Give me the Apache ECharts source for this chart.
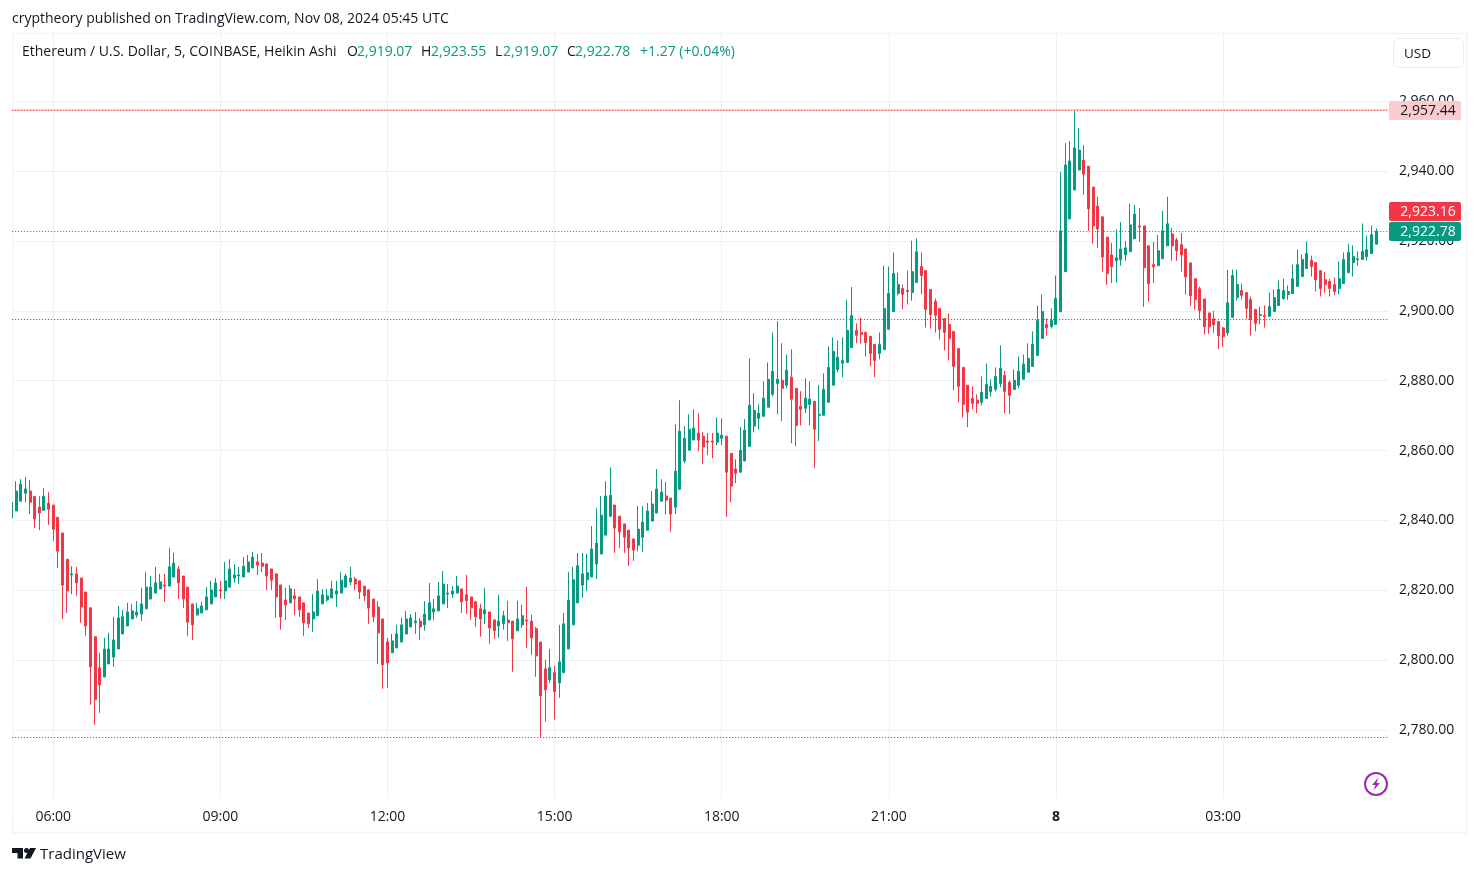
<!DOCTYPE html>
<html>
<head>
<meta charset="utf-8">
<title>ETHUSD</title>
<script src="https://cdn.jsdelivr.net/npm/echarts@6/dist/echarts.min.js"></script>
<style>
  html, body { margin: 0; padding: 0; background: #fff; }
  #chart { width: 1479px; height: 875px; }
</style>
</head>
<body>
<div id="chart"></div>
<script>
const opens = [
  2840.7, 2842.7, 2845.5, 2847.8, 2848.4, 2846.9, 2843.8, 2842.9, 2844.9, 2844.4,
  2840.9, 2836.4, 2828.9, 2824.4, 2824.7, 2823.5, 2819.5, 2815.0, 2806.7, 2797.8,
  2795.2, 2798.9, 2800.9, 2803.2, 2807.5, 2809.8, 2811.8, 2812.9, 2813.2, 2814.7,
  2817.5, 2819.2, 2820.4, 2821.5, 2821.2, 2823.8, 2826.1, 2824.1, 2820.9, 2816.1,
  2812.9, 2813.5, 2814.4, 2816.1, 2818.1, 2820.1, 2819.8, 2820.9, 2823.5, 2824.1,
  2823.8, 2825.2, 2826.4, 2828.1, 2827.8, 2827.5, 2826.1, 2824.7, 2821.5, 2817.2,
  2816.4, 2818.4, 2818.1, 2816.4, 2813.5, 2811.8, 2812.7, 2816.1, 2817.2, 2817.8,
  2818.9, 2819.2, 2820.9, 2822.4, 2823.2, 2822.7, 2821.2, 2820.1, 2817.5, 2815.2,
  2811.8, 2805.2, 2802.1, 2803.5, 2805.2, 2807.5, 2809.5, 2810.7, 2811.2, 2810.1,
  2811.5, 2813.8, 2814.1, 2816.1, 2818.9, 2818.9, 2819.2, 2820.4, 2818.7, 2818.1,
  2816.7, 2814.7, 2813.2, 2813.8, 2811.5, 2809.8, 2810.4, 2811.5, 2811.2, 2808.4,
  2810.1, 2811.5, 2811.2, 2809.0, 2805.2, 2797.5, 2794.4, 2796.4, 2793.5, 2796.4,
  2803.2, 2810.1, 2816.4, 2821.5, 2823.0, 2823.8, 2827.5, 2830.4, 2835.8, 2841.2,
  2844.4, 2841.2, 2839.0, 2837.2, 2834.7, 2832.9, 2835.2, 2837.2, 2839.8, 2842.1,
  2845.5, 2847.0, 2846.4, 2843.8, 2848.9, 2857.0, 2860.1, 2863.0, 2865.0, 2864.1,
  2862.7, 2862.7, 2862.4, 2863.5, 2864.1, 2859.2, 2854.7, 2853.8, 2857.0, 2861.2,
  2867.0, 2869.2, 2869.8, 2872.4, 2876.1, 2879.2, 2880.1, 2878.7, 2881.0, 2877.8,
  2872.7, 2872.1, 2873.2, 2874.1, 2870.1, 2870.1, 2873.8, 2878.7, 2883.2, 2885.0,
  2885.2, 2889.5, 2894.4, 2893.8, 2893.8, 2892.7, 2890.4, 2887.8, 2888.9, 2894.7,
  2899.8, 2905.0, 2906.4, 2905.8, 2905.2, 2908.1, 2912.7, 2911.5, 2906.1, 2902.7,
  2900.7, 2897.8, 2896.1, 2894.1, 2889.2, 2883.8, 2878.7, 2874.9, 2874.4, 2873.8,
  2874.9, 2876.9, 2877.5, 2879.2, 2881.5, 2879.5, 2877.5, 2878.7, 2880.4, 2882.4,
  2884.1, 2887.2, 2892.1, 2896.1, 2895.5, 2896.1, 2899.7, 2911.2, 2926.3, 2934.6,
  2940.3, 2943.1, 2941.4, 2935.4, 2930.0, 2926.9, 2921.1, 2916.0, 2914.3, 2914.6,
  2916.0, 2916.9, 2920.6, 2924.3, 2924.3, 2918.6, 2913.2, 2912.9, 2914.9, 2918.6,
  2922.0, 2920.3, 2918.9, 2917.7, 2913.7, 2909.2, 2906.3, 2903.4, 2899.4, 2897.7,
  2896.9, 2895.1, 2893.7, 2898.1, 2903.8, 2905.8, 2905.2, 2903.2, 2900.4, 2898.7,
  2898.7, 2898.4, 2899.8, 2901.5, 2903.5, 2904.7, 2904.9, 2907.0, 2909.8, 2912.1,
  2914.4, 2913.8, 2911.5, 2908.9, 2908.4, 2907.5, 2906.4, 2907.8, 2910.9, 2913.8,
  2914.7, 2914.7, 2915.5, 2916.4, 2919.07
]
const closes = [
  2845.2, 2848.4, 2850.4, 2849.0, 2845.2, 2840.4, 2842.1, 2846.9, 2843.2, 2837.5,
  2831.2, 2821.5, 2819.8, 2824.7, 2822.1, 2815.2, 2809.8, 2798.1, 2788.7, 2792.9,
  2803.2, 2803.2, 2805.8, 2812.1, 2812.4, 2813.8, 2814.1, 2813.8, 2816.1, 2820.9,
  2820.9, 2822.1, 2822.4, 2821.2, 2826.7, 2827.8, 2822.1, 2817.5, 2810.9, 2810.1,
  2814.7, 2815.5, 2818.1, 2820.1, 2822.1, 2819.8, 2822.7, 2826.1, 2824.4, 2824.4,
  2826.9, 2828.1, 2829.5, 2827.2, 2826.9, 2824.1, 2822.9, 2818.1, 2812.4, 2815.8,
  2820.4, 2817.5, 2814.4, 2810.7, 2810.4, 2813.8, 2819.8, 2818.7, 2818.4, 2820.4,
  2819.8, 2822.9, 2824.1, 2823.5, 2821.8, 2819.5, 2818.4, 2814.9, 2812.4, 2807.8,
  2798.7, 2799.2, 2805.5, 2807.5, 2810.1, 2811.8, 2812.1, 2811.2, 2809.5, 2813.2,
  2816.4, 2814.7, 2818.4, 2821.8, 2819.2, 2819.8, 2821.2, 2816.7, 2817.0, 2815.0,
  2812.4, 2811.8, 2814.4, 2809.2, 2808.4, 2811.2, 2812.7, 2810.7, 2806.1, 2811.8,
  2812.7, 2811.2, 2806.4, 2801.2, 2789.8, 2791.5, 2797.8, 2791.0, 2799.5, 2810.4,
  2817.2, 2823.0, 2827.0, 2824.7, 2825.0, 2831.8, 2833.5, 2841.5, 2847.0, 2847.2,
  2837.8, 2836.7, 2835.2, 2832.1, 2831.5, 2837.5, 2839.5, 2842.7, 2844.7, 2849.0,
  2848.1, 2845.8, 2841.8, 2854.1, 2865.5, 2863.5, 2866.1, 2866.4, 2863.0, 2861.0,
  2862.4, 2862.4, 2865.0, 2864.4, 2853.8, 2849.8, 2853.5, 2860.1, 2865.8, 2873.0,
  2871.5, 2870.7, 2875.0, 2880.4, 2882.7, 2880.4, 2877.8, 2883.0, 2874.7, 2867.2,
  2871.8, 2875.0, 2874.7, 2866.1, 2870.4, 2877.5, 2883.8, 2888.4, 2886.7, 2885.8,
  2894.4, 2898.7, 2893.0, 2893.2, 2890.9, 2887.8, 2885.8, 2890.4, 2900.7, 2905.0,
  2910.7, 2907.5, 2904.7, 2905.5, 2911.2, 2916.9, 2910.1, 2900.4, 2898.9, 2898.7,
  2894.7, 2893.8, 2892.1, 2884.1, 2878.4, 2873.2, 2871.0, 2873.5, 2873.5, 2876.7,
  2878.9, 2878.4, 2881.2, 2883.5, 2876.9, 2875.8, 2880.1, 2882.7, 2884.7, 2886.4,
  2890.4, 2897.2, 2899.8, 2895.2, 2897.2, 2903.5, 2922.9, 2941.7, 2942.9, 2946.6,
  2946.0, 2939.1, 2929.2, 2924.3, 2923.4, 2915.4, 2910.6, 2912.6, 2915.2, 2917.7,
  2918.0, 2924.6, 2927.7, 2924.0, 2912.3, 2907.7, 2912.6, 2917.2, 2922.9, 2924.9,
  2918.6, 2917.2, 2916.0, 2909.7, 2904.3, 2903.2, 2900.0, 2895.4, 2895.4, 2896.0,
  2892.9, 2892.6, 2902.3, 2910.1, 2907.5, 2904.4, 2900.7, 2897.5, 2896.4, 2898.9,
  2898.4, 2901.2, 2903.8, 2906.1, 2905.8, 2905.5, 2909.2, 2913.2, 2914.7, 2916.4,
  2912.7, 2908.9, 2906.4, 2907.5, 2906.4, 2905.5, 2909.2, 2914.7, 2916.7, 2915.5,
  2914.9, 2917.0, 2917.5, 2921.8, 2922.78
]
const lows = [
  2840.7, 2842.7, 2845.5, 2845.2, 2841.8, 2837.8, 2837.2, 2842.9, 2838.7, 2834.1,
  2826.4, 2811.8, 2813.5, 2818.9, 2818.4, 2810.7, 2806.9, 2787.2, 2781.5, 2784.9,
  2795.2, 2798.9, 2798.1, 2803.2, 2807.5, 2809.8, 2811.8, 2812.1, 2811.2, 2814.7,
  2817.5, 2819.2, 2820.4, 2816.7, 2821.2, 2823.8, 2817.5, 2814.9, 2806.9, 2805.8,
  2812.9, 2813.5, 2814.4, 2816.1, 2818.1, 2817.5, 2817.5, 2820.9, 2822.1, 2821.8,
  2823.8, 2825.2, 2826.4, 2824.4, 2825.2, 2820.1, 2820.1, 2812.1, 2808.7, 2811.5,
  2816.4, 2812.9, 2812.4, 2806.9, 2809.2, 2808.1, 2812.7, 2816.1, 2816.7, 2817.8,
  2815.2, 2819.2, 2820.9, 2821.5, 2820.1, 2817.5, 2816.9, 2810.4, 2810.9, 2798.9,
  2791.8, 2792.1, 2802.1, 2803.5, 2805.2, 2807.5, 2809.5, 2807.5, 2805.8, 2808.4,
  2811.5, 2811.5, 2814.1, 2816.1, 2814.9, 2817.8, 2819.2, 2813.5, 2813.2, 2811.5,
  2809.5, 2806.7, 2810.4, 2804.7, 2806.1, 2806.4, 2808.7, 2805.5, 2796.7, 2808.4,
  2809.2, 2803.5, 2801.5, 2795.2, 2777.9, 2782.4, 2793.5, 2783.0, 2789.2, 2796.4,
  2803.2, 2810.1, 2816.4, 2817.8, 2819.8, 2823.8, 2823.2, 2830.4, 2835.8, 2840.9,
  2830.7, 2832.1, 2830.7, 2827.0, 2828.4, 2831.2, 2831.0, 2837.2, 2839.8, 2842.1,
  2845.5, 2841.8, 2836.7, 2841.8, 2848.9, 2856.4, 2860.1, 2863.0, 2859.8, 2856.1,
  2858.7, 2857.8, 2861.5, 2861.5, 2841.0, 2845.2, 2850.7, 2853.8, 2857.0, 2861.2,
  2865.2, 2866.1, 2869.8, 2872.4, 2875.5, 2870.4, 2868.4, 2877.8, 2862.1, 2861.2,
  2867.2, 2870.7, 2867.2, 2855.0, 2862.7, 2870.1, 2873.8, 2878.7, 2882.4, 2881.0,
  2885.2, 2889.5, 2890.7, 2890.6, 2886.9, 2884.1, 2881.0, 2886.1, 2888.9, 2894.7,
  2899.8, 2904.4, 2900.4, 2901.8, 2902.9, 2908.1, 2904.7, 2895.2, 2894.9, 2893.8,
  2891.8, 2888.7, 2885.8, 2877.2, 2873.8, 2869.5, 2866.7, 2871.8, 2870.7, 2872.9,
  2874.9, 2875.5, 2876.9, 2878.1, 2870.7, 2870.4, 2877.5, 2877.8, 2880.4, 2882.4,
  2884.1, 2887.2, 2892.1, 2892.9, 2894.9, 2896.1, 2899.7, 2911.2, 2926.3, 2934.6,
  2940.3, 2933.2, 2922.9, 2919.2, 2918.0, 2911.2, 2907.4, 2908.0, 2908.0, 2912.9,
  2914.3, 2916.9, 2920.6, 2919.7, 2901.1, 2902.6, 2908.0, 2912.9, 2914.9, 2918.6,
  2914.3, 2914.3, 2911.2, 2904.6, 2901.4, 2900.3, 2897.4, 2893.2, 2893.4, 2893.7,
  2889.1, 2889.7, 2892.9, 2898.1, 2902.9, 2903.2, 2897.8, 2892.9, 2894.1, 2896.1,
  2895.2, 2898.4, 2899.8, 2901.5, 2903.2, 2903.2, 2904.9, 2907.0, 2909.8, 2912.1,
  2909.8, 2905.5, 2904.1, 2905.2, 2904.1, 2904.4, 2904.7, 2907.8, 2910.9, 2909.8,
  2912.9, 2914.7, 2914.4, 2916.4, 2919.07
]
const highs = [
  2848.4, 2851.2, 2851.8, 2852.4, 2851.5, 2846.9, 2846.9, 2849.2, 2848.1, 2844.4,
  2840.9, 2836.4, 2828.9, 2826.9, 2826.7, 2823.5, 2819.5, 2815.0, 2806.7, 2802.1,
  2806.4, 2807.8, 2812.4, 2815.5, 2814.4, 2816.4, 2816.1, 2816.9, 2820.7, 2825.2,
  2824.1, 2826.7, 2824.7, 2824.7, 2832.1, 2830.7, 2826.9, 2824.1, 2820.9, 2816.1,
  2816.4, 2816.7, 2820.9, 2822.7, 2823.5, 2822.7, 2828.1, 2828.9, 2827.5, 2826.7,
  2829.5, 2830.1, 2831.0, 2830.4, 2830.7, 2827.8, 2826.1, 2824.7, 2821.5, 2820.7,
  2821.5, 2820.4, 2818.1, 2816.4, 2813.5, 2818.9, 2823.2, 2820.4, 2820.4, 2822.7,
  2822.7, 2825.2, 2824.7, 2826.7, 2823.8, 2822.7, 2821.2, 2820.4, 2817.5, 2816.9,
  2811.8, 2806.4, 2807.5, 2810.1, 2812.1, 2814.1, 2813.2, 2813.8, 2812.1, 2816.9,
  2822.1, 2817.5, 2822.4, 2825.5, 2821.8, 2821.2, 2824.1, 2820.4, 2824.4, 2818.1,
  2817.0, 2816.1, 2820.7, 2813.8, 2811.8, 2818.7, 2814.1, 2817.0, 2811.2, 2817.0,
  2815.8, 2821.0, 2813.0, 2809.5, 2805.2, 2800.1, 2803.2, 2798.4, 2810.1, 2813.5,
  2825.2, 2826.7, 2830.7, 2830.7, 2830.4, 2838.4, 2843.5, 2847.0, 2851.2, 2855.2,
  2844.4, 2841.2, 2839.0, 2837.2, 2834.7, 2844.1, 2844.1, 2845.0, 2848.4, 2854.7,
  2851.8, 2851.0, 2846.4, 2867.5, 2874.4, 2867.0, 2870.4, 2871.8, 2870.7, 2865.2,
  2865.0, 2865.0, 2869.5, 2869.2, 2864.1, 2859.2, 2857.5, 2866.7, 2869.0, 2886.4,
  2876.4, 2873.2, 2879.8, 2885.2, 2893.8, 2897.0, 2890.7, 2887.5, 2889.0, 2877.8,
  2877.0, 2880.7, 2879.8, 2874.1, 2878.7, 2882.1, 2889.8, 2892.4, 2891.5, 2892.4,
  2903.1, 2906.8, 2896.4, 2898.0, 2894.1, 2892.7, 2890.4, 2893.8, 2912.9, 2912.7,
  2916.7, 2910.9, 2907.5, 2911.5, 2920.1, 2920.7, 2916.7, 2911.5, 2906.1, 2903.5,
  2900.7, 2897.8, 2899.2, 2894.1, 2889.2, 2883.8, 2878.7, 2878.4, 2876.1, 2881.2,
  2884.9, 2880.4, 2883.8, 2890.1, 2882.9, 2880.1, 2883.2, 2886.9, 2887.5, 2890.7,
  2894.1, 2901.5, 2904.7, 2897.8, 2900.7, 2910.1, 2939.7, 2948.0, 2948.6, 2957.44,
  2952.3, 2947.4, 2941.4, 2935.4, 2932.6, 2926.9, 2921.1, 2919.4, 2923.2, 2925.4,
  2920.0, 2930.6, 2930.3, 2929.4, 2924.3, 2918.6, 2919.7, 2921.7, 2928.6, 2932.6,
  2923.7, 2920.9, 2922.3, 2917.7, 2913.7, 2909.2, 2906.9, 2903.4, 2899.4, 2900.0,
  2896.9, 2895.4, 2911.7, 2911.8, 2911.8, 2907.8, 2905.2, 2904.1, 2900.4, 2901.2,
  2901.5, 2905.2, 2906.1, 2908.7, 2909.2, 2907.2, 2913.2, 2917.5, 2916.1, 2919.8,
  2915.8, 2913.8, 2911.5, 2911.2, 2909.2, 2909.5, 2914.1, 2916.7, 2919.2, 2918.7,
  2917.0, 2925.0, 2921.5, 2924.4, 2923.55
]

// two empty slots to the right of the last candle
const slotCount = opens.length + 2
const firstSlotMinutes = 5 * 60 + 15
const categories = []
for (let i = 0; i < slotCount; i++) {
  const m = (firstSlotMinutes + i * 5) % 1440
  categories.push(String(Math.floor(m / 60)).padStart(2, '0') + ':' + String(m % 60).padStart(2, '0'))
}
const tickTimes = ['06:00', '09:00', '12:00', '15:00', '18:00', '21:00', '00:00', '03:00']
const dayLabel = '8'

const highLine = 2957.44
const lastLine = 2922.78
const upperLevel = 2897.6
const lowerLevel = 2777.85

const UP = '#089981'
const DOWN = '#F23645'
const FONT = '"Open Sans", sans-serif'

const isTick = (index, value) => tickTimes.includes(value) && index < opens.length

function priceTag(text, top, bg, fg) {
  return [
    { type: 'rect', z: 60, shape: { x: 1389, y: top, width: 72, height: 19, r: 2 }, style: { fill: bg } },
    { type: 'text', z: 61, style: { text, x: 1428, y: top + 10, fill: fg, font: '14px ' + FONT, align: 'center', verticalAlign: 'middle' } }
  ]
}

function label(text, x, y, fill, size) {
  return { type: 'text', z: 61, style: { text, x, y: y + 1, fill, font: (size || 14) + 'px ' + FONT, verticalAlign: 'middle' } }
}

const chart = echarts.init(document.getElementById('chart'), null, { renderer: 'canvas' })

const option = {
  animation: false,
  backgroundColor: '#fff',
  grid: { left: 9.18, width: 1378.7, top: 31.3, height: 768.6 },
  xAxis: {
    type: 'category',
    data: categories,
    boundaryGap: true,
    axisLine: { show: false },
    axisTick: { show: false },
    splitLine: { show: true, interval: isTick, alignWithLabel: true, lineStyle: { color: '#f0f0f3', width: 1 } },
    axisLabel: {
      interval: isTick,
      margin: 10,
      color: '#131722',
      fontFamily: FONT,
      fontSize: 14,
      hideOverlap: false,
      formatter: value => value === '00:00' ? '{day|' + dayLabel + '}' : value,
      rich: { day: { fontWeight: 'bold', color: '#131722', fontFamily: FONT, fontSize: 14 } }
    }
  },
  yAxis: {
    type: 'value',
    position: 'right',
    min: 2760,
    max: 2980,
    interval: 20,
    axisLine: { show: false },
    axisTick: { show: false },
    splitLine: { show: true, showMinLine: false, showMaxLine: false, lineStyle: { color: '#f0f0f3', width: 1 } },
    axisLabel: {
      margin: 11,
      color: '#131722',
      fontFamily: FONT,
      fontSize: 14,
      showMinLabel: false,
      showMaxLabel: false,
      formatter: value => echarts.format.addCommas(value.toFixed(2))
    }
  },
  series: [
    {
      type: 'candlestick',
      barWidth: 2.5,
      progressive: 0,
      data: opens.map((o, i) => [o, closes[i], lows[i], highs[i]]),
      itemStyle: { color: UP, color0: DOWN, borderColor: UP, borderColor0: DOWN, borderWidth: 1 },
      markLine: {
        silent: true,
        symbol: 'none',
        animation: false,
        label: { show: false },
        data: [
          { yAxis: highLine, lineStyle: { color: '#f9d0d3', type: 'solid', width: 2 } },
          { yAxis: highLine, lineStyle: { color: DOWN, type: [1, 2], width: 1 } },
          { yAxis: lastLine, lineStyle: { color: UP, type: [1, 2], width: 1 } },
          { yAxis: upperLevel, lineStyle: { color: '#555', type: [1, 2], width: 1 } },
          { yAxis: lowerLevel, lineStyle: { color: '#555', type: [1, 2], width: 1 } }
        ]
      }
    }
  ],
  graphic: [
    // the first candle is cut by the frame, the area outside the pane stays white
    { type: 'rect', z: 50, shape: { x: 0, y: 20, width: 12, height: 800 }, style: { fill: '#fff' } },
    { type: 'rect', z: 50, shape: { x: 12, y: 798, width: 1376, height: 3 }, style: { fill: '#fff' } },
    { type: 'rect', z: 1, shape: { x: 12.5, y: 33.5, width: 1454.5, height: 799 }, style: { fill: 'none', stroke: '#f0f3fa', lineWidth: 1.5 } },

    label('cryptheory published on TradingView.com, Nov 08, 2024 05:45 UTC', 12, 18, '#131722'),
    label('Ethereum / U.S. Dollar, 5, COINBASE, Heikin Ashi', 22, 51, '#131722'),
    label('O', 347, 51, '#131722'),
    label('2,919.07', 357, 51, UP),
    label('H', 421, 51, '#131722'),
    label('2,923.55', 431, 51, UP),
    label('L', 495, 51, '#131722'),
    label('2,919.07', 503, 51, UP),
    label('C', 567, 51, '#131722'),
    label('2,922.78', 575, 51, UP),
    label('+1.27 (+0.04%)', 640, 51, UP),

    { type: 'rect', z: 60, shape: { x: 1393.5, y: 38.5, width: 70, height: 29, r: 6 }, style: { fill: '#fff', stroke: '#e9ebf2', lineWidth: 1 } },
    label('USD', 1404, 53, '#131722', 13.5),

    ...priceTag('2,957.44', 101, '#fccbcd', '#131722'),
    ...priceTag('2,923.16', 202, DOWN, '#fff'),
    ...priceTag('2,922.78', 222, UP, '#fff'),

    // snapshot mark
    { type: 'circle', z: 60, shape: { cx: 1376, cy: 784, r: 11 }, style: { fill: 'none', stroke: '#9c27b0', lineWidth: 2 } },
    { type: 'polygon', z: 60, shape: { points: [[1378.5, 777.5], [1372, 785], [1375.5, 785], [1373.5, 790.5], [1380, 783], [1376.5, 783]] }, style: { fill: '#9c27b0' } },

    // logo
    { type: 'polygon', z: 60, shape: { points: [[12, 848], [23, 848], [23, 858.5], [17.5, 858.5], [17.5, 853], [12, 853]] }, style: { fill: '#131722' } },
    { type: 'circle', z: 60, shape: { cx: 26.5, cy: 850.5, r: 2.5 }, style: { fill: '#131722' } },
    { type: 'polygon', z: 60, shape: { points: [[30, 848], [36, 848], [30.5, 858.5], [24.5, 858.5]] }, style: { fill: '#131722' } },
    label('TradingView', 40, 854, '#131722', 15)
  ]
}

chart.setOption(option)
</script>
</body>
</html>
